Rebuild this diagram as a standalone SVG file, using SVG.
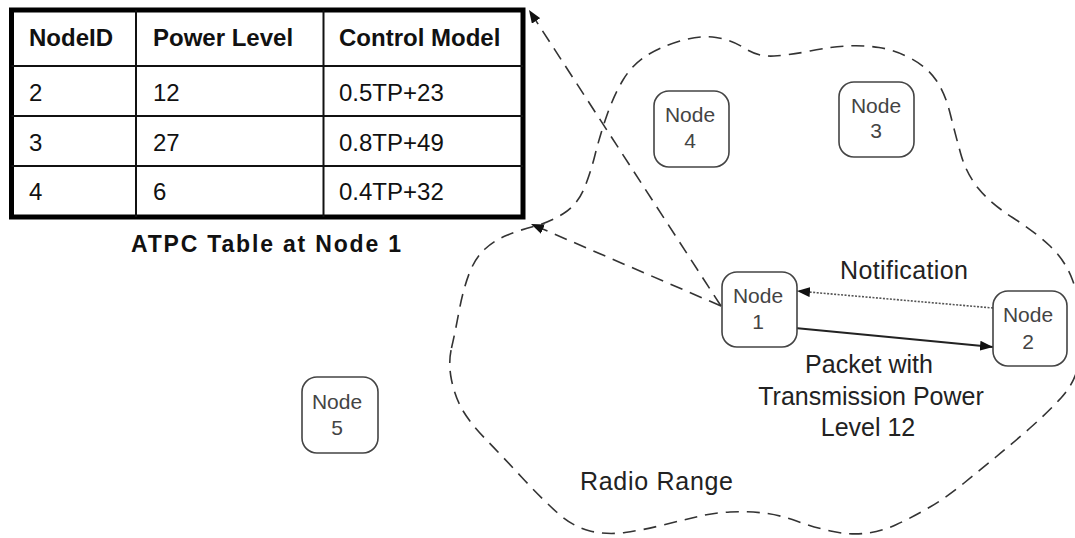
<svg xmlns="http://www.w3.org/2000/svg" width="1075" height="538" viewBox="0 0 1075 538">
<style>
.tb{font-family:"Liberation Sans",Arial,sans-serif;font-size:24px;fill:#111}
.b{font-weight:bold}
.nd rect{fill:#fff;stroke:#444;stroke-width:1.6}
.nd text{font-family:"Liberation Sans",Arial,sans-serif;font-size:21px;fill:#444;text-anchor:middle}
.lbl{font-family:"Liberation Sans",Arial,sans-serif;font-size:25px;fill:#222}
.dash{fill:none;stroke:#333;stroke-width:1.6;stroke-dasharray:13 8}
</style>
<defs>
<marker id="arr" markerUnits="userSpaceOnUse" markerWidth="14" markerHeight="10" refX="13" refY="5" orient="auto">
<path d="M0,0 L13,5 L0,10 z" fill="#111"/>
</marker>
</defs>
<rect width="1075" height="538" fill="#fff"/>
<g id="radio-range">
<path class="dash" d="M 451.5,348 Q 455,333 459,311.5 Q 463,290 469,274 Q 475,258 485,249 Q 495,240 507.5,235 Q 520,230 535,226 Q 550,222 563.5,213.5 Q 577,205 583.5,190 Q 590,175 595,155 Q 600,135 607,115 Q 614,95 623,80 Q 632,65 646,56 Q 660,47 680,41 Q 700,35 716,37.5 Q 732,40 745,48.5 Q 758,57 774,56 Q 790,55 810,51 Q 830,47 846.5,46 Q 863,45 879,47.5 Q 895,50 911,58.5 Q 927,67 936,80 Q 945,93 950,113 Q 955,133 960.5,153 Q 966,173 978,188 Q 990,203 1012.5,217.5 Q 1035,232 1050,246 Q 1065,260 1072.5,280 Q 1080,300 1082,320 Q 1084,340 1079.5,361.5 Q 1075,383 1061,398 Q 1047,413 1030,428 Q 1013,443 996.5,456.5 Q 980,470 963.5,483.5 Q 947,497 930,507 Q 913,517 896.5,524.5 Q 880,532 864,533.5 Q 848,535 830.5,531 Q 813,527 796.5,521 Q 780,515 763.5,513 Q 747,511 730,512 Q 713,513 698,516.5 Q 683,520 663,525 Q 643,530 625,532.5 Q 607,535 590,531 Q 573,527 556.5,512 Q 540,497 521.5,477 Q 503,457 486.5,440 Q 470,423 462.5,410 Q 455,397 451.5,380 Q 448,363 451.5,348 Z"/>
<text class="lbl" x="580" y="490" textLength="153">Radio Range</text>
</g>
<g id="atpc-table">
<rect x="11.5" y="10" width="511.5" height="207" fill="#fff" stroke="#000" stroke-width="5"/>
<g stroke="#111" stroke-width="2">
<line x1="136" y1="10" x2="136" y2="217"/>
<line x1="323.5" y1="10" x2="323.5" y2="217"/>
<line x1="11.5" y1="66" x2="523" y2="66"/>
<line x1="11.5" y1="116" x2="523" y2="116"/>
<line x1="11.5" y1="166" x2="523" y2="166"/>
</g>
<text class="tb b" x="29" y="46">NodeID</text>
<text class="tb b" x="153" y="46">Power Level</text>
<text class="tb b" x="339" y="46">Control Model</text>
<text class="tb" x="29" y="101">2</text>
<text class="tb" x="153" y="101">12</text>
<text class="tb" x="339" y="101">0.5TP+23</text>
<text class="tb" x="29" y="151">3</text>
<text class="tb" x="153" y="151">27</text>
<text class="tb" x="339" y="151">0.8TP+49</text>
<text class="tb" x="29" y="200">4</text>
<text class="tb" x="153" y="200">6</text>
<text class="tb" x="339" y="200">0.4TP+32</text>
<text class="tb b" x="131" y="252" style="font-size:23px" textLength="270" lengthAdjust="spacing">ATPC Table at Node 1</text>
</g>
<g id="connectors">
<path class="dash" d="M721,306 L529,10" marker-end="url(#arr)"/>
<path class="dash" d="M721,306 L531,224" marker-end="url(#arr)"/>
<path d="M993,308 L797,291" fill="none" stroke="#555" stroke-width="1.6" stroke-dasharray="2 1.5" marker-end="url(#arr)"/>
<path d="M795,328 L993,347" fill="none" stroke="#222" stroke-width="1.8" marker-end="url(#arr)"/>
<text class="lbl" x="840" y="279" textLength="128">Notification</text>
<text class="lbl" x="869" y="373" text-anchor="middle">Packet with</text>
<text class="lbl" x="871" y="405" text-anchor="middle">Transmission Power</text>
<text class="lbl" x="868" y="436" text-anchor="middle">Level 12</text>
</g>
<g id="node1" class="nd"><rect x="722" y="272" width="75" height="75" rx="15"/><text x="758" y="303">Node</text><text x="758" y="329">1</text></g>
<g id="node2" class="nd"><rect x="993" y="291" width="74" height="75" rx="15"/><text x="1028" y="322">Node</text><text x="1028" y="349">2</text></g>
<g id="node3" class="nd"><rect x="839" y="82" width="75" height="75" rx="15"/><text x="876" y="113">Node</text><text x="876" y="138">3</text></g>
<g id="node4" class="nd"><rect x="654" y="91" width="75" height="76" rx="15"/><text x="690" y="122">Node</text><text x="690" y="148">4</text></g>
<g id="node5" class="nd"><rect x="302" y="377" width="76" height="76" rx="15"/><text x="337" y="409">Node</text><text x="337" y="435">5</text></g>
</svg>
